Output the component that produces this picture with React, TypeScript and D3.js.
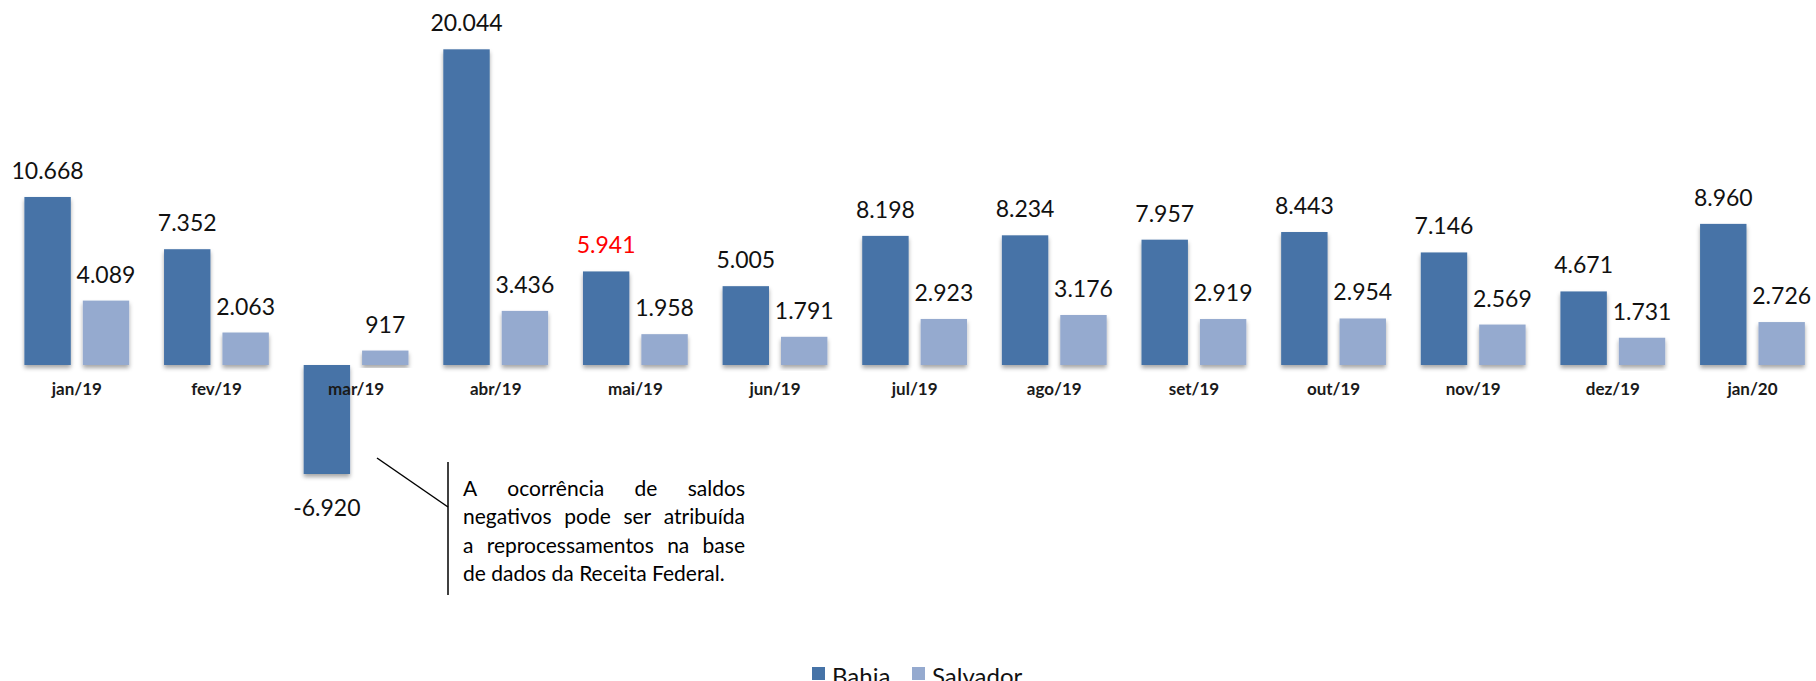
import React, { useEffect, useRef } from 'react';
import * as d3 from 'd3';

const categories = ['jan/19', 'fev/19', 'mar/19', 'abr/19', 'mai/19', 'jun/19', 'jul/19', 'ago/19', 'set/19', 'out/19', 'nov/19', 'dez/19', 'jan/20'];
const bahia = [10668, 7352, -6920, 20044, 5941, 5005, 8198, 8234, 7957, 8443, 7146, 4671, 8960];
const salvador = [4089, 2063, 917, 3436, 1958, 1791, 2923, 3176, 2919, 2954, 2569, 1731, 2726];
const seriesNames = ['Bahia', 'Salvador'];
const seriesColors = ['#4673a7', '#95aacf'];
const redLabels = [{ series: 'Bahia', category: 'mai/19' }];
const noteLines = [
  'A ocorrência de saldos',
  'negativos pode ser atribuída',
  'a reprocessamentos na base',
  'de dados da Receita Federal.',
];

const W = 1816, H = 681;

function App() {
  const ref = useRef<SVGSVGElement>(null);

  useEffect(() => {
    const svg = d3.select(ref.current);
    svg.selectAll('*').remove();

    const font = 'Lato, "Open Sans", sans-serif';
    const fmt = d3.formatLocale({ decimal: ',', thousands: '.', grouping: [3], currency: ['R$', ''], minus: '-' }).format(',d');

    // soft shadow under the bars
    const defs = svg.append('defs');
    defs.append('filter').attr('id', 'shadow')
      .attr('x', '-20%').attr('y', '-20%').attr('width', '140%').attr('height', '140%')
      .append('feDropShadow')
      .attr('dx', 0).attr('dy', 3).attr('stdDeviation', 2.2)
      .attr('flood-color', '#000').attr('flood-opacity', 0.35);

    const x = d3.scaleBand().domain(categories).range([7, 7 + 13 * 139.64]).padding(0);
    const xs = d3.scaleBand().domain(seriesNames).range([17.4, 122.2]).paddingInner(0.2055).paddingOuter(0);
    const y = d3.scaleLinear().domain([0, 20000]).range([365, 50]);

    const rows = categories.map((c, i) => [
      { series: 'Bahia', category: c, value: bahia[i] },
      { series: 'Salvador', category: c, value: salvador[i] },
    ]).flat();

    const color = d3.scaleOrdinal<string, string>().domain(seriesNames).range(seriesColors);

    // baseline
    svg.append('line')
      .attr('x1', 7).attr('x2', W)
      .attr('y1', y(0)).attr('y2', y(0))
      .attr('stroke', '#a0a0a0').attr('stroke-width', 2)
      .attr('filter', 'url(#shadow)');

    svg.append('g').selectAll('rect').data(rows).join('rect')
      .attr('x', d => x(d.category)! + xs(d.series)!)
      .attr('width', xs.bandwidth())
      .attr('y', d => y(Math.max(0, d.value)))
      .attr('height', d => Math.abs(y(d.value) - y(0)))
      .attr('fill', d => color(d.series))
      .attr('filter', 'url(#shadow)');

    // category labels
    svg.append('g').selectAll('text').data(categories).join('text')
      .attr('x', d => x(d)! + x.bandwidth() / 2)
      .attr('y', 395)
      .attr('text-anchor', 'middle')
      .attr('font-family', font).attr('font-weight', 700).attr('font-size', 17)
      .attr('fill', '#1a1a1a')
      .text(d => d);

    // value labels
    svg.append('g').selectAll('text').data(rows).join('text')
      .attr('x', d => x(d.category)! + xs(d.series)! + xs.bandwidth() / 2)
      .attr('y', d => d.value >= 0 ? y(d.value) - 18 : y(d.value) + 42)
      .attr('text-anchor', 'middle')
      .attr('font-family', font).attr('font-size', 23)
      .attr('fill', d => redLabels.some(r => r.series === d.series && r.category === d.category) ? '#ff0000' : '#111')
      .text(d => fmt(d.value));

    // annotation
    svg.append('line').attr('x1', 377).attr('y1', 458).attr('x2', 448).attr('y2', 507)
      .attr('stroke', '#000').attr('stroke-width', 1.5);
    svg.append('line').attr('x1', 448).attr('y1', 462).attr('x2', 448).attr('y2', 595)
      .attr('stroke', '#000').attr('stroke-width', 1.5);

    const noteLeft = 463, noteWidth = 282;
    noteLines.forEach((line, i) => {
      const t = svg.append('text')
        .attr('y', 496 + i * 28.4)
        .attr('font-family', font).attr('font-size', 21).attr('fill', '#000');
      if (i === noteLines.length - 1) {
        t.attr('x', noteLeft).text(line);
        return;
      }
      const words = line.split(' ');
      const spans = words.map(w => t.append('tspan').text(w));
      const widths = spans.map(s => (s.node() as SVGTSpanElement).getComputedTextLength());
      const gap = (noteWidth - d3.sum(widths)) / (words.length - 1);
      let cx = noteLeft;
      spans.forEach((s, k) => {
        s.attr('x', cx);
        cx += widths[k] + gap;
      });
    });

    // legend
    const leg = svg.append('g');
    const legX = [812, 912];
    seriesNames.forEach((name, i) => {
      leg.append('rect').attr('x', legX[i]).attr('y', 667).attr('width', 13).attr('height', 13)
        .attr('fill', color(name));
      leg.append('text').attr('x', legX[i] + 20).attr('y', 685)
        .attr('font-family', font).attr('font-size', 24).attr('fill', '#111')
        .text(name);
    });
  }, []);

  return (
    <svg ref={ref} width={W} height={H} style={{ position: 'absolute', left: 0, top: 0, background: '#fff' }} />
  );
}

export default App;
